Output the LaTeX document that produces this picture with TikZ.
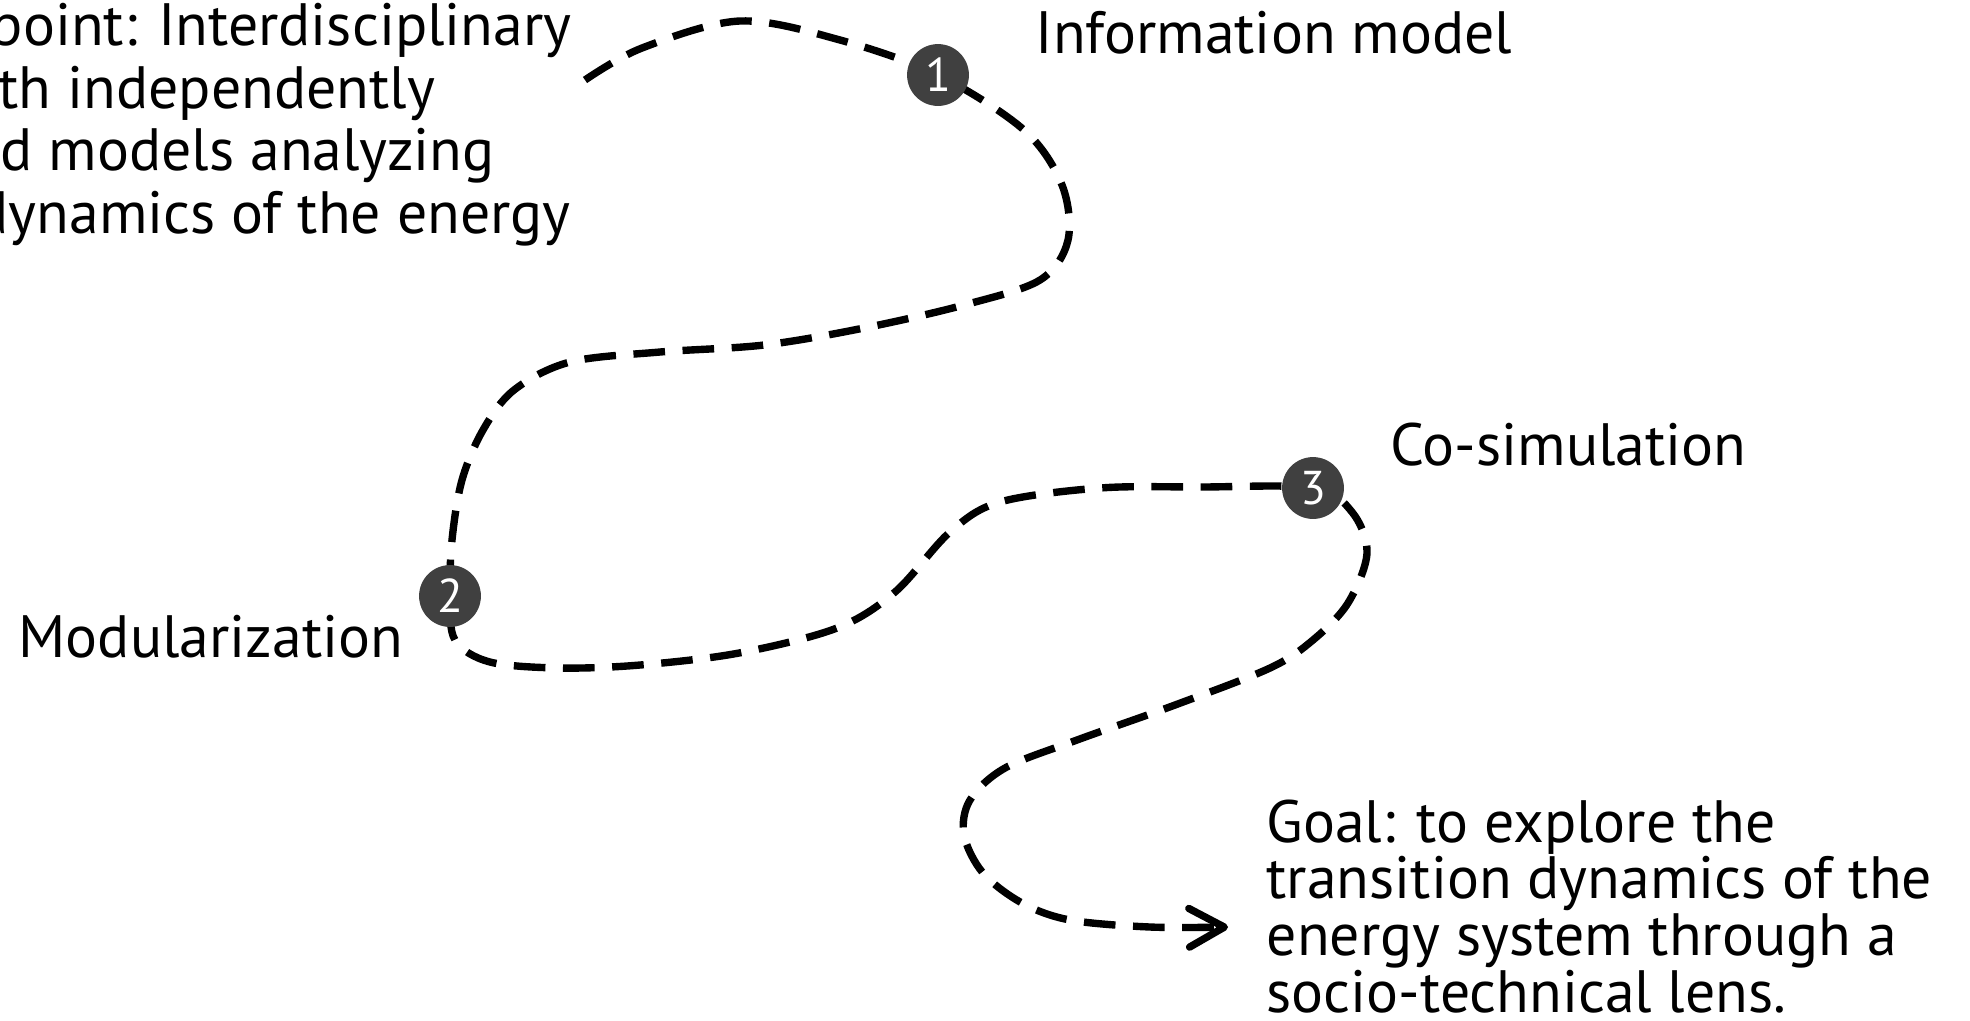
\documentclass[tikz,border=0pt]{standalone}
\usepackage{fontspec}
\setmainfont{PT Sans}
\usetikzlibrary{arrows.meta}
\definecolor{dotgray}{HTML}{404040}
\tikzset{
  route/.style={line width=2.1pt, dash pattern=on 9pt off 5pt,
    -{Straight Barb[length=10pt,width=11pt,round]}},
  stepdot/.style={circle, fill=dotgray, text=white, minimum size=17.6pt,
    inner sep=0pt, font=\fontsize{13.5pt}{13.5pt}\selectfont},
  lbl/.style={inner sep=0pt, font=\fontsize{17pt}{16.1pt}\selectfont},
}
\begin{document}
\begin{tikzpicture}[x=0.1mm,y=-0.1mm]
\useasboundingbox (0,0) rectangle (1970,1020);

% way points of the route
\coordinate (start) at (585,80);
\coordinate (p1) at (642,48);
\coordinate (p2) at (740,21);
\coordinate (p3) at (840,40);
\coordinate (m1) at (938,75);
\coordinate (p4) at (1024,130);
\coordinate (p5) at (1062,185);
\coordinate (p6) at (1068,240);
\coordinate (p7) at (1040,280);
\coordinate (p8) at (964,305);
\coordinate (p9) at (864,328);
\coordinate (p10) at (764,345);
\coordinate (p11) at (660,352);
\coordinate (p12) at (570,362);
\coordinate (p13) at (514,390);
\coordinate (p14) at (483,430);
\coordinate (p15) at (462,480);
\coordinate (p16) at (452,540);
\coordinate (m2) at (450,596);
\coordinate (p17) at (455,640);
\coordinate (p18) at (490,662);
\coordinate (p19) at (560,668);
\coordinate (p20) at (640,665);
\coordinate (p21) at (739,653);
\coordinate (p22) at (837,628);
\coordinate (p23) at (895,592);
\coordinate (p24) at (950,532);
\coordinate (p25) at (1000,502);
\coordinate (p26) at (1100,488);
\coordinate (p27) at (1200,487);
\coordinate (m3) at (1313,488);
\coordinate (p28) at (1352,512);
\coordinate (p29) at (1367,553);
\coordinate (p30) at (1348,603);
\coordinate (p31) at (1313,640);
\coordinate (p32) at (1270,668);
\coordinate (p33) at (1175,705);
\coordinate (p34) at (1077,740);
\coordinate (p35) at (1005,768);
\coordinate (p36) at (970,800);
\coordinate (p37) at (964,835);
\coordinate (p38) at (983,873);
\coordinate (p39) at (1022,903);
\coordinate (p40) at (1070,920);
\coordinate (p41) at (1150,927);
\coordinate (tip) at (1228,927);

\draw[route] plot[smooth, tension=.55] coordinates {(start) (p1) (p2) (p3) (m1)
  (p4) (p5) (p6) (p7) (p8) (p9) (p10) (p11) (p12) (p13) (p14) (p15) (p16) (m2)
  (p17) (p18) (p19) (p20) (p21) (p22) (p23) (p24) (p25) (p26) (p27) (m3)
  (p28) (p29) (p30) (p31) (p32) (p33) (p34) (p35) (p36) (p37) (p38) (p39)
  (p40) (p41) (tip)};

\node[stepdot] (s1) at (m1) {1};
\node[stepdot] (s2) at (m2) {2};
\node[stepdot] (s3) at (m3) {3};

\node[lbl, anchor=base west] (info) at (1035,53) {Information model};
\node[lbl, anchor=base west] (modul) at (18,657) {Modularization};
\node[lbl, anchor=base west] (cosim) at (1390,465) {Co-simulation};
% base of a multi-line node is its last line
\node[lbl, anchor=base west, align=left] (goal) at (1266,1012)
  {Goal: to explore the\\transition dynamics of the\\energy system through a\\socio-technical lens.};

\node[lbl, anchor=base west] (intro1) at (-10,45) {point: Interdisciplinary};
\node[lbl, anchor=base west] (intro2) at (-2,108) {th independently};
\node[lbl, anchor=base west] (intro3) at (0,170) {d models analyzing};
\node[lbl, anchor=base west] (intro4) at (-24,233) {dynamics of the energy};
\end{tikzpicture}
\end{document}
